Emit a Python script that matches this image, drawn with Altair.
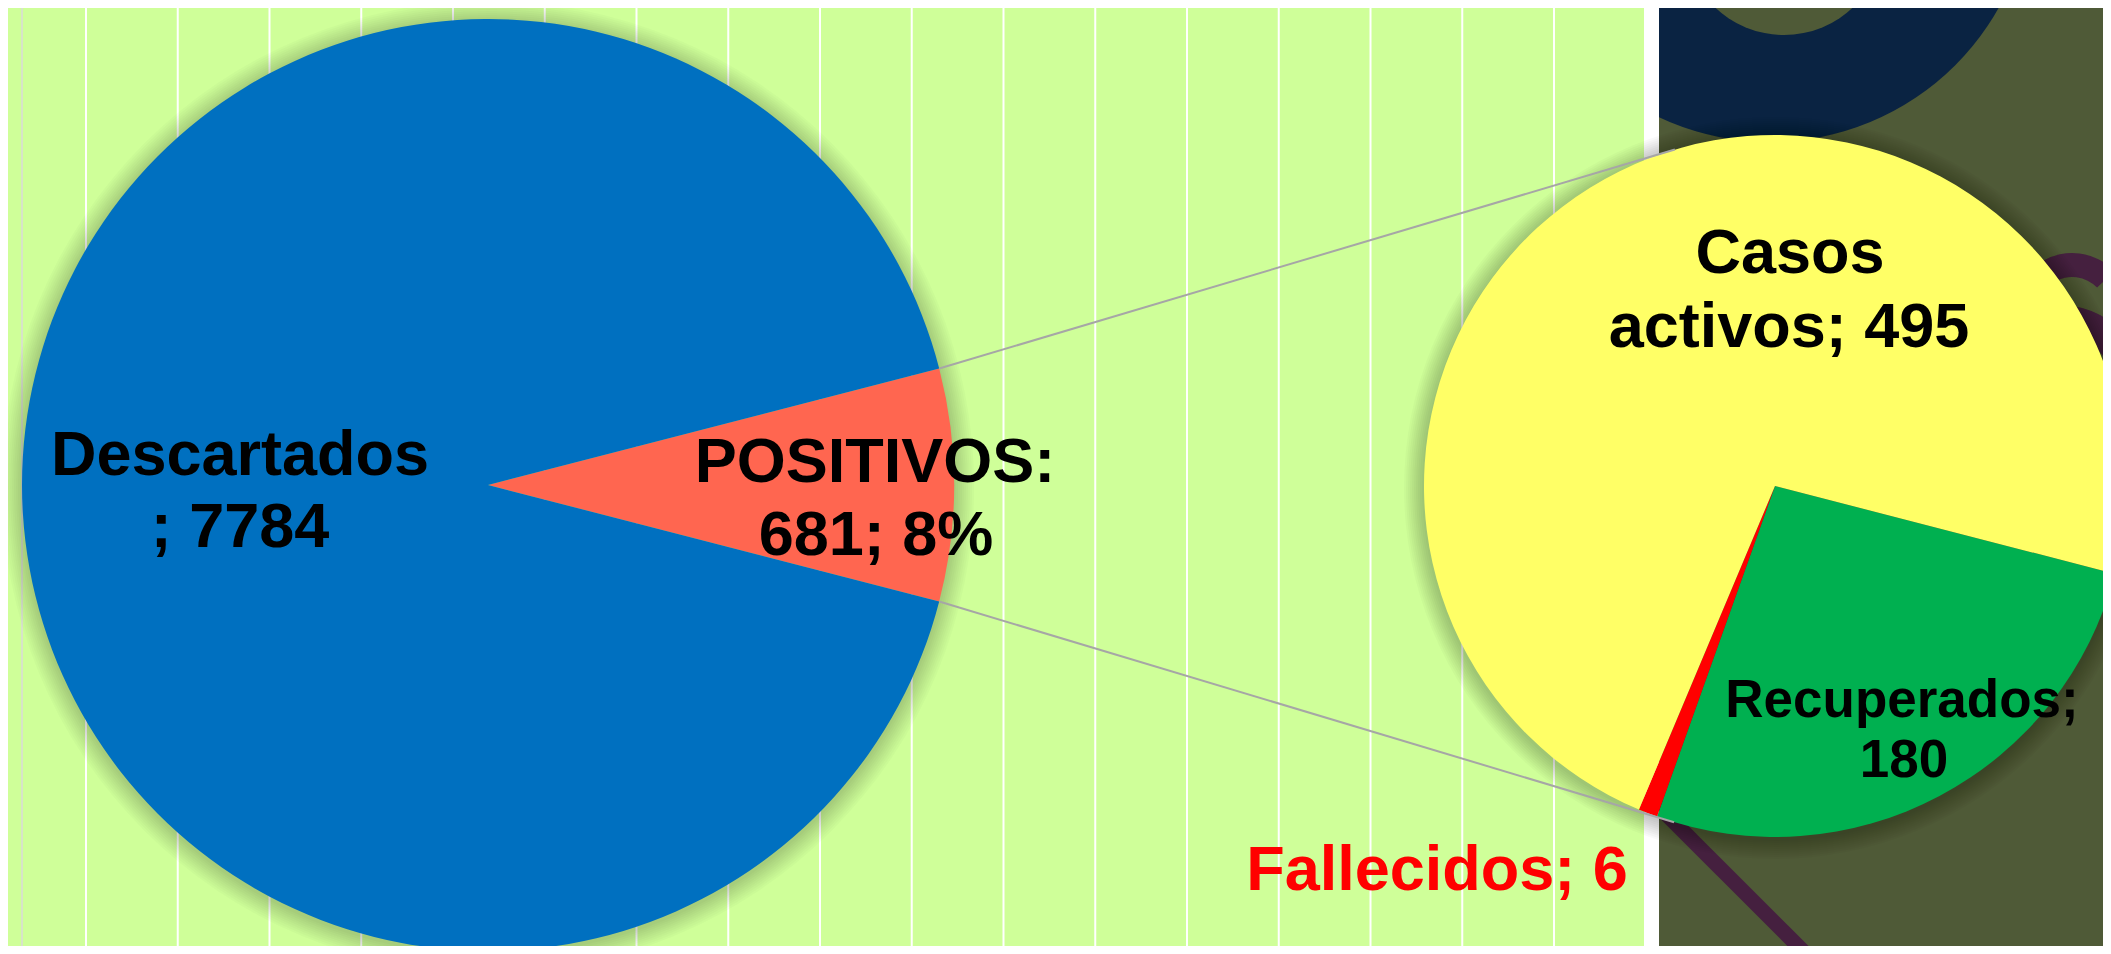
import math
import altair as alt
import pandas as pd

# ---------------- data ----------------
main_categories = ["POSITIVOS", "Descartados"]
main_values = [681, 7784]
main_colors = ["#FF6650", "#0070C0"]

sub_categories = ["Recuperados", "Fallecidos", "Casos activos"]
sub_values = [180, 6, 495]
sub_colors = ["#00B050", "#FF0000", "#FFFF66"]

# ---------------- layout ----------------
W, H = 2095, 938
OFF = 8


def px(v):
    return v - OFF


L_CX, L_CY, L_R = 488, 485, 466
R_CX, R_CY, R_R = 1775, 486, 351

BG_GREEN = "#CFFF99"
OLIVE = "#4F5A37"
NAVY = "#0A2342"
PURPLE = "#45203F"
FONT = "Liberation Sans"
TAU = 2 * math.pi

total = sum(main_values)
pos_share = main_values[0] / total
half = pos_share * math.pi
start_main = math.pi / 2 - half
start_sub = math.pi / 2 + half

one = alt.Data(values=[{}])


def rect(x1, x2, y1, y2, color):
    return alt.Chart(one).mark_rect(color=color).encode(
        x=alt.value(px(x1)), x2=alt.value(px(x2)),
        y=alt.value(px(y1)), y2=alt.value(px(y2)))


def disc(cx, cy, r, color, opacity=1.0, r2=0, t1=0.0, t2=TAU):
    return alt.Chart(one).mark_arc(
        radius=r, radius2=r2, theta=t1, theta2=t2, color=color, opacity=opacity
    ).encode(x=alt.value(px(cx)), y=alt.value(px(cy)))


def seg(x1, y1, x2, y2, color, width):
    return alt.Chart(one).mark_rule(color=color, strokeWidth=width, strokeCap="butt").encode(
        x=alt.value(px(x1)), y=alt.value(px(y1)),
        x2=alt.value(px(x2)), y2=alt.value(px(y2)))


def label(text, x, y, size, color="black"):
    return alt.Chart(one).mark_text(
        text=text, font=FONT, fontWeight="bold", fontSize=size, color=color,
        align="center", baseline="alphabetic"
    ).encode(x=alt.value(px(x)), y=alt.value(px(y)))


layers = []

# dark background decorations (right side)
layers.append(rect(0, W + 20, 0, H + 20, OLIVE))
layers.append(disc(1770, -120, 262, NAVY))
layers.append(disc(1784, -65, 100, OLIVE))
layers.append(disc(2072, 312, 59, PURPLE, r2=35, t1=4.4, t2=TAU + 0.8))
layers.append(disc(2060, 390, 85, PURPLE, r2=55, t1=TAU - 0.6, t2=TAU + 2.2))
layers.append(seg(1655, 803, 1820, 968, PURPLE, 15))

# light green panel + white strip
layers.append(rect(0, 1644, 0, H + 20, BG_GREEN))
layers.append(rect(1644, 1659, 0, H + 20, "#FFFFFF"))

# vertical white lines
grid_df = pd.DataFrame({"gx": [px(86 + 91.75 * k) for k in range(17)]})
layers.append(alt.Chart(grid_df).mark_rule(color="#FFFFFF", strokeWidth=2).encode(
    x=alt.X("gx:Q", scale=None)))
layers.append(seg(22, 0, 22, H + 20, "#DADADA", 1.5))

# soft shadows
for k in range(1, 11):
    layers.append(disc(L_CX, L_CY + 2, L_R + 2 * k, "#000000", 0.02))
    layers.append(disc(R_CX, R_CY + 2, R_R + 2 * k, "#000000", 0.022))

# main pie
main_df = pd.DataFrame({"cat": main_categories, "value": main_values,
                        "color": main_colors, "ord": list(range(len(main_values)))})
main_pie = alt.Chart(main_df).mark_arc(radius=L_R).encode(
    theta=alt.Theta("value:Q", stack=True,
                    scale=alt.Scale(range=[start_main, start_main + TAU])),
    order=alt.Order("ord:Q"),
    color=alt.Color("color:N", scale=None),
    x=alt.value(px(L_CX)), y=alt.value(px(L_CY)),
)

sub_df = pd.DataFrame({"cat": sub_categories, "value": sub_values,
                       "color": sub_colors, "ord": list(range(len(sub_values)))})
sub_pie = alt.Chart(sub_df).mark_arc(radius=R_R).encode(
    theta=alt.Theta("sval:Q", stack=True,
                    scale=alt.Scale(range=[start_sub, start_sub + TAU])),
    order=alt.Order("ord:Q"),
    color=alt.Color("color:N", scale=None),
    x=alt.value(px(R_CX)), y=alt.value(px(R_CY)),
).transform_calculate(sval="datum.value")

layers.append(main_pie)
layers.append(sub_pie)


# connector lines (tangents from the positive slice edge to the second pie)
def tangent(sx, sy, sign):
    dx, dy = sx - R_CX, sy - R_CY
    d = math.hypot(dx, dy)
    ux, uy = dx / d, dy / d
    phi = sign * math.acos(R_R / d)
    tx = ux * math.cos(phi) - uy * math.sin(phi)
    ty = ux * math.sin(phi) + uy * math.cos(phi)
    return R_CX + R_R * tx, R_CY + R_R * ty


for sgn in (-1, 1):
    sx = L_CX + L_R * math.cos(half)
    sy = L_CY + sgn * L_R * math.sin(half)
    tx, ty = tangent(sx, sy, 1 if sgn < 0 else -1)
    layers.append(seg(sx, sy, tx, ty, "#A6A6A6", 2))

# labels
pct = round(100 * pos_share)
casos_words = sub_categories[2].split()
layers.append(label(main_categories[1], 240, 475, 63))
layers.append(label(f"; {main_values[1]}", 240, 547, 63))
layers.append(label(f"{main_categories[0]}:", 875, 482, 63))
layers.append(label(f"{main_values[0]}; {pct}%", 876, 555, 63))
layers.append(label(casos_words[0], 1790, 273, 63))
layers.append(label(f"{casos_words[1]}; {sub_values[2]}", 1789, 347, 63))
layers.append(label(f"{sub_categories[0]};", 1902, 717, 53))
layers.append(label(f"{sub_values[0]}", 1904, 777, 53))
layers.append(label(f"{sub_categories[1]}; {sub_values[1]}", 1437, 890, 63, "#FF0000"))

chart = alt.layer(*layers).resolve_scale(theta="independent").properties(
    width=W, height=H, padding=0, autosize=alt.AutoSizeParams(type="none"),
    background="#FFFFFF",
).configure_view(stroke=None)

chart.save("out.html", embed_options={"renderer": "svg", "actions": False})
